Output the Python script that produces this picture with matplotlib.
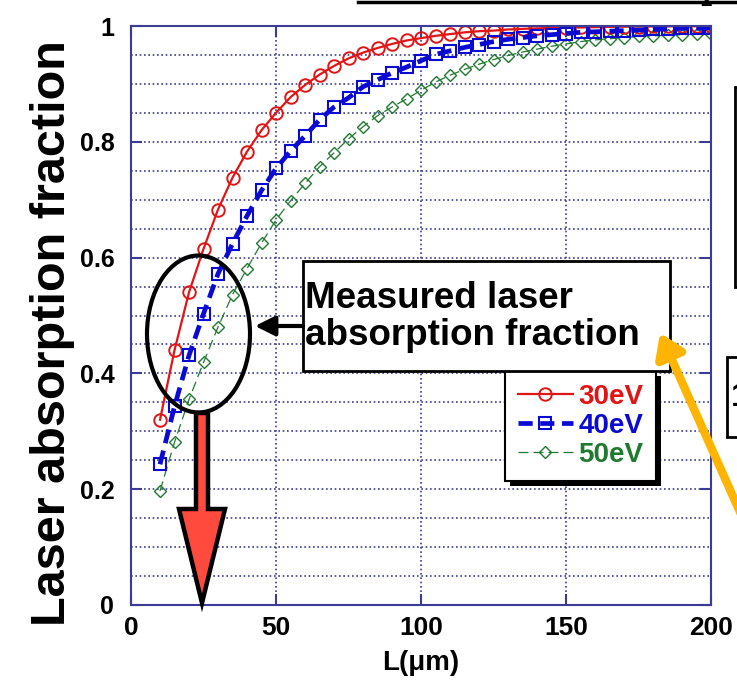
import matplotlib
matplotlib.use("Agg")
import matplotlib.pyplot as plt
from matplotlib import font_manager
from matplotlib.patches import Rectangle, Ellipse, Polygon
from matplotlib.ticker import MultipleLocator

# target thickness L (um)
L_um = [10, 15, 20, 25, 30, 35, 40, 45, 50, 55, 60, 65, 70, 75, 80, 85, 90, 95, 100,
        105, 110, 115, 120, 125, 130, 135, 140, 145, 150, 155, 160, 165, 170, 175,
        180, 185, 190, 195, 200]

# absorption fraction for each electron temperature
abs_30eV = [0.32, 0.44, 0.54, 0.615, 0.683, 0.738, 0.783, 0.82, 0.85, 0.877, 0.898,
            0.916, 0.931, 0.944, 0.954, 0.962, 0.969, 0.975, 0.979, 0.983, 0.986,
            0.989, 0.991, 0.992, 0.994, 0.995, 0.996, 0.9965, 0.997, 0.9975, 0.998,
            0.9985, 0.9988, 0.999, 0.9992, 0.9993, 0.9995, 0.9996, 0.9997]
abs_40eV = [0.243, 0.343, 0.431, 0.503, 0.572, 0.624, 0.672, 0.716, 0.754, 0.784, 0.81,
            0.838, 0.86, 0.876, 0.895, 0.907, 0.919, 0.929, 0.94, 0.951, 0.957,
            0.963, 0.968, 0.973, 0.977, 0.98, 0.983, 0.985, 0.987, 0.989, 0.99,
            0.991, 0.992, 0.993, 0.994, 0.995, 0.996, 0.996, 0.997]
abs_50eV = [0.197, 0.281, 0.355, 0.419, 0.48, 0.536, 0.581, 0.625, 0.665, 0.698, 0.728,
            0.757, 0.781, 0.805, 0.826, 0.845, 0.86, 0.874, 0.889, 0.903, 0.915,
            0.925, 0.934, 0.942, 0.949, 0.955, 0.96, 0.965, 0.969, 0.973, 0.976,
            0.978, 0.98, 0.982, 0.983, 0.984, 0.985, 0.986, 0.987]

series_labels = ["30eV", "40eV", "50eV"]
x_ticks = [0, 50, 100, 150, 200]
x_ticklabels = ["0", "50", "100", "150", "200"]
y_ticks = [0, 0.2, 0.4, 0.6, 0.8, 1.0]
y_ticklabels = ["0", "0.2", "0.4", "0.6", "0.8", "1"]


def pick_font(names):
    for n in names:
        try:
            font_manager.findfont(n, fallback_to_default=False)
            return n
        except ValueError:
            pass
    return None


narrow = pick_font(["Liberation Sans Narrow", "Arial Narrow"])
tick_size = 21 if narrow else 19
ytick_size = 20 if narrow else 18
if narrow is None:
    narrow = "Liberation Sans"

plt.rcParams["font.family"] = ["Liberation Sans", "DejaVu Sans"]

W, H = 737, 681
fig = plt.figure(figsize=(W / 100, H / 100), dpi=100)
fig.patch.set_facecolor("white")

frame = "#3c3c96"
ax = fig.add_axes([131 / W, 76 / H, 580 / W, 579 / H])
ax.set_xlim(0, 200)
ax.set_ylim(0, 1)

ax.plot(L_um, abs_50eV, color="#1f7a30", lw=0.9, dashes=(8, 4),
        marker="D", ms=6, mfc="none", mec="#1f7a30", mew=1.0, label=series_labels[2])
ax.plot(L_um, abs_30eV, color="#e01515", lw=1.6,
        marker="o", ms=9, mfc="none", mec="#e01515", mew=1.4, label=series_labels[0])
ax.plot(L_um, abs_40eV, color="#0a0ad2", lw=3.4, dashes=(3, 1.6),
        marker="s", ms=8.5, mfc="none", mec="#0a0ad2", mew=1.5, label=series_labels[1])

ax.set_xticks(x_ticks)
ax.set_xticklabels(x_ticklabels)
ax.set_yticks(y_ticks)
ax.set_yticklabels(y_ticklabels)
ax.yaxis.set_minor_locator(MultipleLocator(0.05))
ax.tick_params(which="major", direction="in", top=True, right=True, length=8,
               width=1.5, color=frame)
ax.tick_params(which="minor", length=0)
ax.tick_params(axis="x", pad=8)
ax.tick_params(axis="y", pad=12)
for lab in ax.get_xticklabels():
    lab.set_fontfamily([narrow, "DejaVu Sans"])
    lab.set_fontsize(tick_size)
    lab.set_fontweight("bold")
for lab in ax.get_yticklabels():
    lab.set_fontfamily([narrow, "DejaVu Sans"])
    lab.set_fontsize(ytick_size)
    lab.set_fontweight("bold")
for s in ax.spines.values():
    s.set_color(frame)
    s.set_linewidth(1.5)
ax.grid(which="both", axis="y", color=frame, lw=1.2, linestyle=(0, (1, 1.6)))
ax.grid(which="major", axis="x", color=frame, lw=1.2, linestyle=(0, (1, 1.6)))
ax.set_axisbelow(True)

ax.set_xlabel("L(\u03bcm)", fontsize=tick_size + 1, fontweight="bold",
              family=[narrow, "DejaVu Sans"], labelpad=7)
fig.text(53 / W, 1 - 333 / H, "Laser absorption fraction", rotation=90,
         ha="center", va="center", fontsize=35, fontweight="bold")

# overlay in pixel coordinates for the slide annotations
ov = fig.add_axes([0, 0, 1, 1])
ov.set_xlim(0, W)
ov.set_ylim(H, 0)
ov.axis("off")

h_all, l_all = ax.get_legend_handles_labels()
order = [l_all.index(s) for s in series_labels]
leg = ov.legend([h_all[i] for i in order], [l_all[i] for i in order],
                loc="upper left", bbox_to_anchor=(505, 371),
                bbox_transform=ov.transData, borderaxespad=0, borderpad=0.45,
                prop={"size": 20, "weight": "bold"}, handlelength=2.0,
                handletextpad=0.2, labelspacing=0.12, labelcolor="linecolor",
                fancybox=False, framealpha=1, edgecolor="black", numpoints=1)
leg.get_frame().set_linewidth(1.5)
leg.set_zorder(5)

# ellipse around the measured region and the downward red arrow
ov.add_patch(Ellipse((198.5, 334), 103, 157, fill=False, ec="black", lw=3, zorder=3))
ov.add_patch(Polygon([(196, 413), (208, 413), (208, 509), (225, 509), (202, 603),
                      (179, 509), (196, 509)], closed=True, fc="#ff4a3d",
                     ec="black", lw=3.2, joinstyle="miter", zorder=3))

# callout box
ov.add_patch(Rectangle((303, 261), 367, 110, fc="white", ec="black", lw=2, zorder=6))
ov.text(305, 317, "Measured laser\nabsorption fraction", ha="left", va="center",
        fontsize=26.5, fontweight="bold", linespacing=1.05, zorder=7)
ov.annotate("", xy=(255, 326), xytext=(303, 326), zorder=7,
            arrowprops=dict(arrowstyle="-|>", lw=3, color="black",
                            mutation_scale=30, shrinkA=0, shrinkB=0))
ov.annotate("", xy=(660, 333), xytext=(748, 530), zorder=7,
            arrowprops=dict(arrowstyle="-|>,head_length=0.45,head_width=0.3",
                            lw=6, color="#ffb400", mutation_scale=30,
                            shrinkA=0, shrinkB=0))

# pieces of neighbouring slide elements at the edges
ov.plot([358, 740], [1.5, 1.5], color="black", lw=2.5, clip_on=False)
ov.text(706, 0, "2", ha="center", va="center", fontsize=15, fontweight="bold")
ov.add_patch(Rectangle((735, 87), 30, 200, fc="white", ec="black", lw=2))
ov.add_patch(Rectangle((727, 357), 40, 80, fc="white", ec="black", lw=2))
ov.text(731, 398, "1", ha="left", va="center", fontsize=24, fontweight="bold")

# legend drop shadow
fig.canvas.draw()
bb = leg.get_frame().get_window_extent()
ov.add_patch(Rectangle((bb.x0 + 5, H - bb.y1 + 5), bb.width, bb.height,
                       fc="black", ec="none", zorder=4))

fig.savefig("out.png", dpi=100, facecolor="white")
